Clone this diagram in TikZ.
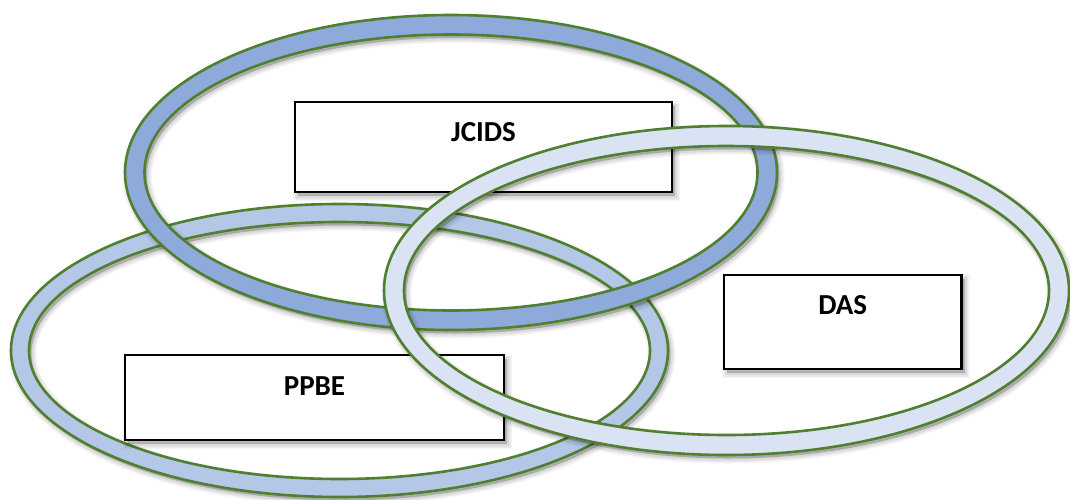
\documentclass[tikz,border=0pt]{standalone}
\usepackage{fontspec}
\setmainfont{Carlito}
\definecolor{ringgreen}{HTML}{4F7F2F}
\definecolor{jblue}{HTML}{8EAADB}
\definecolor{pblue}{HTML}{B4C7E7}
\definecolor{dblue}{HTML}{DAE3F3}
\tikzset{
  ringband/.style={fill=#1, draw=ringgreen, line width=2.6pt, even odd rule},
  shadowfill/.style={fill=black, fill opacity=0.22, draw=none, even odd rule},
  boxnode/.style={draw=black, line width=2.5pt, fill=white, inner sep=0pt},
  lbl/.style={font=\bfseries\fontsize{29}{29}\selectfont, inner sep=0pt, anchor=base},
}
% cx cy rx ry band colour
\newcommand\ringshape[6]{%
  \begin{scope}[shift={(2.5,3.5)}]
    \path[shadowfill] (#1,#2) ellipse [x radius=#3, y radius=#4]
                      (#1,#2) ellipse [x radius=#3-#5, y radius=#4-#5];
    \foreach \lw/\op in {10/0.04,7/0.05,4/0.06}{
      \draw[line width=\lw pt, black, draw opacity=\op]
        (#1,#2) ellipse [x radius=#3, y radius=#4]
        (#1,#2) ellipse [x radius=#3-#5, y radius=#4-#5];
    }
  \end{scope}
  \path[ringband=#6] (#1,#2) ellipse [x radius=#3, y radius=#4]
                     (#1,#2) ellipse [x radius=#3-#5, y radius=#4-#5];
}
% cx cy w h
\newcommand\boxshadow[4]{%
  \begin{scope}[shift={(3,4)}]
    \fill[black, fill opacity=0.2] (#1-#3/2,#2-#4/2) rectangle (#1+#3/2,#2+#4/2);
    \foreach \lw/\op in {10/0.04,7/0.05,4/0.06}{
      \draw[line width=\lw pt, black, draw opacity=\op] (#1-#3/2,#2-#4/2) rectangle (#1+#3/2,#2+#4/2);
    }
  \end{scope}
}
\begin{document}
\begin{tikzpicture}[x=1pt, y=-1pt]
  \useasboundingbox (0,0) rectangle (1070,499);
  \fill[white] (0,0) rectangle (1070,499);

  % PPBE ring and box
  \ringshape{339.5}{350.5}{328.5}{146.5}{18}{pblue}
  \boxshadow{314.5}{397.5}{379}{85}
  \node[boxnode, minimum width=379pt, minimum height=85pt] (ppbe) at (314.5,397.5) {};
  \node[lbl] (ppbeT) at (314.5,395) {PPBE};

  % JCIDS ring and box
  \ringshape{451}{172.5}{326}{157.5}{19.5}{jblue}
  \boxshadow{483.5}{147}{377}{90}
  \node[boxnode, minimum width=377pt, minimum height=90pt] (jcids) at (483.5,147) {};
  \node[lbl] (jcidsT) at (483.5,141) {JCIDS};

  % DAS ring and box
  \ringshape{726.5}{290.5}{342.5}{164.5}{20}{dblue}
  \boxshadow{842.75}{322}{237.5}{94}
  \node[boxnode, minimum width=237.5pt, minimum height=94pt] (das) at (842.75,322) {};
  \node[lbl] (dasT) at (842.75,314) {DAS};
\end{tikzpicture}
\end{document}
